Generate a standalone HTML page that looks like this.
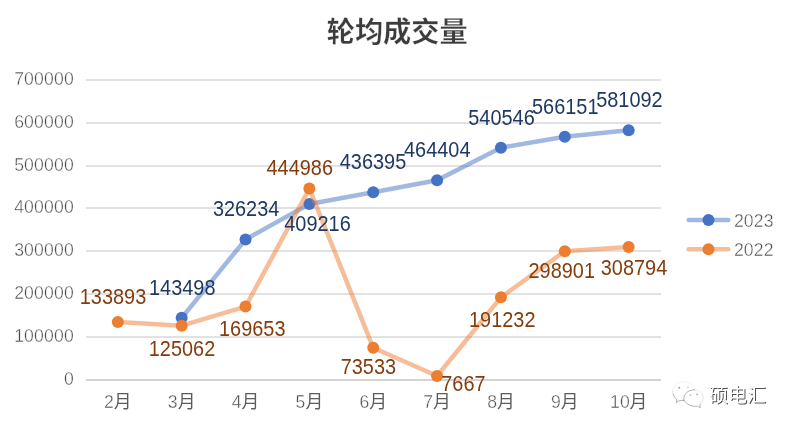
<!DOCTYPE html>
<html lang="zh">
<head>
<meta charset="utf-8">
<title>轮均成交量</title>
<style>
html,body{margin:0;padding:0;background:#fff;}
body{width:792px;height:430px;overflow:hidden;font-family:"Liberation Sans",sans-serif;}
svg{display:block;font-family:"Liberation Sans",sans-serif;will-change:transform;}
text{stroke:#fff;}
.ax{font-size:17.65px;fill:#4d4d4d;stroke-width:0.4;letter-spacing:0.15px;}
.e{text-anchor:end;}
.d23{font-size:19.9px;fill:#1F3864;text-anchor:middle;stroke-width:0;}
.d22{font-size:19.9px;fill:#843C0C;text-anchor:middle;stroke-width:0;}
.ttl{font-family:"Liberation Sans","Noto Sans CJK SC",sans-serif;font-size:28.2px;font-weight:bold;fill:#3c3c3c;stroke-width:0.28;}
.yue{font-family:"Liberation Sans","Noto Sans CJK SC",sans-serif;font-size:17.8px;fill:#5c5c5c;stroke-width:0;letter-spacing:0;}
.wm{font-family:"Liberation Sans","Noto Sans CJK SC",sans-serif;font-size:19px;stroke-width:0;}
</style>
</head>
<body>
<svg width="792" height="430" viewBox="0 0 792 430" role="img" aria-label="轮均成交量 2023 / 2022">
<rect width="792" height="430" fill="#fff"/>

<text class="ttl" x="326.7" y="41.7">轮均成交量</text>

<g stroke="#E2E2E2" stroke-width="2.1">
<line x1="86" y1="380" x2="661" y2="380" stroke="#D4D4D4"/>
<line x1="86" y1="337" x2="661" y2="337"/>
<line x1="86" y1="294" x2="661" y2="294"/>
<line x1="86" y1="251" x2="661" y2="251"/>
<line x1="86" y1="208" x2="661" y2="208"/>
<line x1="86" y1="166" x2="661" y2="166"/>
<line x1="86" y1="123" x2="661" y2="123"/>
<line x1="86" y1="80" x2="661" y2="80"/>
</g>

<g class="ax e">
<text transform="translate(73.9 385.4) scale(1 1.055)">0</text>
<text transform="translate(73.9 342.4) scale(1 1.055)">100000</text>
<text transform="translate(73.9 299.4) scale(1 1.055)">200000</text>
<text transform="translate(73.9 256.4) scale(1 1.055)">300000</text>
<text transform="translate(73.9 213.4) scale(1 1.055)">400000</text>
<text transform="translate(73.9 171.4) scale(1 1.055)">500000</text>
<text transform="translate(73.9 128.4) scale(1 1.055)">600000</text>
<text transform="translate(73.9 85.4) scale(1 1.055)">700000</text>
</g>

<g class="ax">
<text transform="translate(104.01 407.8) scale(1 1.055)">2</text>
<text class="yue" x="113.83" y="407.8">月</text>
<text transform="translate(167.87 407.8) scale(1 1.055)">3</text>
<text class="yue" x="177.68" y="407.8">月</text>
<text transform="translate(231.72 407.8) scale(1 1.055)">4</text>
<text class="yue" x="241.53" y="407.8">月</text>
<text transform="translate(295.58 407.8) scale(1 1.055)">5</text>
<text class="yue" x="305.39" y="407.8">月</text>
<text transform="translate(359.43 407.8) scale(1 1.055)">6</text>
<text class="yue" x="369.24" y="407.8">月</text>
<text transform="translate(423.28 407.8) scale(1 1.055)">7</text>
<text class="yue" x="433.1" y="407.8">月</text>
<text transform="translate(487.14 407.8) scale(1 1.055)">8</text>
<text class="yue" x="496.95" y="407.8">月</text>
<text transform="translate(550.99 407.8) scale(1 1.055)">9</text>
<text class="yue" x="560.8" y="407.8">月</text>
<text transform="translate(609.94 407.8) scale(1 1.055)">10</text>
<text class="yue" x="629.57" y="407.8">月</text>
</g>

<polyline fill="none" stroke="#4472C4" stroke-opacity="0.5" stroke-width="4.5" stroke-linejoin="round" stroke-linecap="round" points="181.67,317.8 245.53,239.49 309.38,203.92 373.24,192.27 437.09,180.27 500.94,147.64 564.8,136.66 628.65,130.26"/>
<g fill="#4472C4"><circle cx="181.67" cy="317.8" r="6"/><circle cx="245.53" cy="239.49" r="6"/><circle cx="309.38" cy="203.92" r="6"/><circle cx="373.24" cy="192.27" r="6"/><circle cx="437.09" cy="180.27" r="6"/><circle cx="500.94" cy="147.64" r="6"/><circle cx="564.8" cy="136.66" r="6"/><circle cx="628.65" cy="130.26" r="6"/></g>

<polyline fill="none" stroke="#ED7D31" stroke-opacity="0.5" stroke-width="4.5" stroke-linejoin="round" stroke-linecap="round" points="117.82,321.92 181.67,325.7 245.53,306.59 309.38,188.59 373.24,347.79 437.09,376.01 500.94,297.34 564.8,251.2 628.65,246.96"/>
<g fill="#ED7D31"><circle cx="117.82" cy="321.92" r="6"/><circle cx="181.67" cy="325.7" r="6"/><circle cx="245.53" cy="306.59" r="6"/><circle cx="309.38" cy="188.59" r="6"/><circle cx="373.24" cy="347.79" r="6"/><circle cx="437.09" cy="376.01" r="6"/><circle cx="500.94" cy="297.34" r="6"/><circle cx="564.8" cy="251.2" r="6"/><circle cx="628.65" cy="246.96" r="6"/></g>

<g class="d23">
<text transform="translate(182.25 295) scale(1 1.092)">143498</text>
<text transform="translate(246.1 216) scale(1 1.092)">326234</text>
<text transform="translate(317.5 230.5) scale(1 1.092)">409216</text>
<text transform="translate(373 168.75) scale(1 1.092)">436395</text>
<text transform="translate(437.25 157) scale(1 1.092)">464404</text>
<text transform="translate(501.5 125) scale(1 1.092)">540546</text>
<text transform="translate(565.25 113.75) scale(1 1.092)">566151</text>
<text transform="translate(629.4 106.75) scale(1 1.092)">581092</text>
</g>
<g class="d22">
<text transform="translate(113 303.75) scale(1 1.092)">133893</text>
<text transform="translate(182 355.5) scale(1 1.092)">125062</text>
<text transform="translate(252.25 335.5) scale(1 1.092)">169653</text>
<text transform="translate(299.75 174.5) scale(1 1.092)">444986</text>
<text transform="translate(368.4 373.8) scale(1 1.092)">73533</text>
<text transform="translate(463.4 390.5) scale(1 1.092)">7667</text>
<text transform="translate(502.25 326.75) scale(1 1.092)">191232</text>
<text transform="translate(561.75 278) scale(1 1.092)">298901</text>
<text transform="translate(634 274.75) scale(1 1.092)">308794</text>
</g>

<line x1="688.7" y1="220" x2="728.3" y2="220" stroke="#4472C4" stroke-opacity="0.5" stroke-width="4.5" stroke-linecap="round"/>
<circle cx="708.5" cy="220" r="6" fill="#4472C4"/>
<text class="ax" transform="translate(733.9 226.9) scale(1 1.055)">2023</text>
<line x1="688.7" y1="249.25" x2="728.3" y2="249.25" stroke="#ED7D31" stroke-opacity="0.5" stroke-width="4.5" stroke-linecap="round"/>
<circle cx="708.5" cy="249.25" r="6" fill="#ED7D31"/>
<text class="ax" transform="translate(733.9 256.15) scale(1 1.055)">2022</text>
<g aria-label="硕电汇">
<text class="wm" x="709.9" y="402.8" fill="#505050">硕电汇</text>
<text class="wm" x="708.9" y="401.8" fill="#fff">硕电汇</text>
</g>

<g fill="none" stroke-linecap="round" stroke-linejoin="round" stroke-width="0.7">
<path d="M694.8 389.8C694.2 386.4 691.4 383.6 687.6 382.3 684.700 381.400 681.300 381.500 678.500 382.600 675 384 672.700 387 672.600 390.600" stroke="#ededed"/>
<path d="M694.8 389.8c1.600 0.100 3.100 0.500 4.400 1.300 1.400 0.900 2.500 2.200 3.200 3.700" stroke="#e9e9e9"/>
<path d="M702.4 394.8c0.500 1.100 0.800 2.300 0.700 3.600-0.100 2.200-1.100 4.100-2.600 5.600" stroke="#d4d4d4"/>
<path d="M672.6 390.600c0 1.200 0.200 2.400 0.600 3.500" stroke="#dcdcdc"/>
<path d="M673.2 394.100c0.700 2.200 2 4.200 3.700 5.700l-0.700 2.800 2.400-1.600c1.700-0.500 3.500-0.700 5.300-0.700" stroke="#8e8e8e"/>
<path d="M683.9 400.300c-0.100-1.500 0-2.900 0.400-4.200 0.600-1.700 1.700-3.100 3.200-4.200 2-1.400 4.600-2.100 7.300-2.100" stroke="#909090"/>
<path d="M683.9 400.300c0.400 0.800 1 1.500 1.700 2.100 1 0.900 2.100 1.700 3.400 2.400 1.300 0.700 2.700 1.200 4.200 1.400 1.400 0.200 2.800 0.200 4.200-0.100l2.800 1.700-0.200-3.500" stroke="#949494"/>
</g>
<g fill="#8c8c8c"><circle cx="679.3" cy="387.700" r="0.95" opacity="0.8"/><circle cx="688.1" cy="387.300" r="0.9" opacity="0.45"/><circle cx="690.4" cy="395.100" r="0.9" opacity="0.6"/><circle cx="697.1" cy="394.400" r="0.9" opacity="0.7"/></g>

</svg>
</body>
</html>
